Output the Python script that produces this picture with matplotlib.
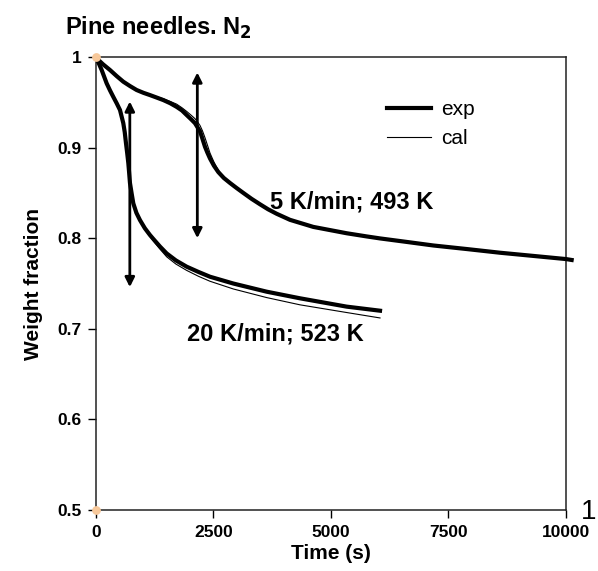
# Pine needles in N2: weight fraction vs time, exp vs cal for two heating rates.
import matplotlib
matplotlib.use("Agg")
import matplotlib.pyplot as plt

plt.rcParams['font.family'] = ['Liberation Sans', 'DejaVu Sans']

# 5 K/min; 493 K
t_5 = [0, 14, 150, 298, 440, 581, 723, 865, 1010, 1149, 1290, 1433, 1580, 1716,
       1830, 1929, 2020, 2106, 2160, 2213, 2266, 2319, 2370, 2426, 2510, 2603,
       2720, 2851, 2990, 3135, 3310, 3489, 3660, 3844, 4128, 4624, 5333, 5759,
       6043, 6600, 7177, 7900, 8596, 9300, 10000, 10120]
w_5_exp = [1.0, 0.9986, 0.992, 0.9857, 0.979, 0.9728, 0.968, 0.9636, 0.9605,
           0.958, 0.9553, 0.9525, 0.949, 0.945, 0.941, 0.936, 0.9315, 0.927,
           0.9225, 0.918, 0.9097, 0.901, 0.8945, 0.888, 0.880, 0.873, 0.8665,
           0.861, 0.8555, 0.850, 0.8435, 0.8375, 0.832, 0.827, 0.8203, 0.8125,
           0.8055, 0.802, 0.7998, 0.796, 0.792, 0.788, 0.784, 0.7805, 0.777,
           0.776]
w_5_cal = [1.0, 0.9986, 0.992, 0.9857, 0.979, 0.9728, 0.968, 0.9636, 0.9607,
           0.9585, 0.9562, 0.954, 0.951, 0.948, 0.944, 0.940, 0.936, 0.932,
           0.9285, 0.9245, 0.9185, 0.911, 0.903, 0.894, 0.884, 0.875, 0.8675,
           0.8615, 0.856, 0.8505, 0.844, 0.838, 0.8325, 0.8275, 0.8208, 0.813,
           0.806, 0.8025, 0.8003, 0.7965, 0.7925, 0.7885, 0.7845, 0.781, 0.7775,
           0.7765]

# 20 K/min; 523 K
t_20 = [0, 60, 121, 227, 300, 369, 440, 511, 581, 612, 638, 664, 688, 706, 723,
        760, 794, 860, 936, 1040, 1149, 1220, 1362, 1504, 1700, 1929, 2180,
        2426, 2922, 3631, 4340, 5333, 6043]
w_20_exp = [1.0, 0.993, 0.9857, 0.971, 0.963, 0.956, 0.949, 0.9415, 0.927,
            0.917, 0.905, 0.894, 0.883, 0.872, 0.861, 0.849, 0.8385, 0.828,
            0.820, 0.811, 0.8035, 0.7992, 0.7908, 0.7832, 0.7755, 0.7686,
            0.7628, 0.7575, 0.750, 0.741, 0.7337, 0.7245, 0.720]
w_20_cal = [1.0, 0.993, 0.9857, 0.971, 0.963, 0.956, 0.949, 0.9415, 0.927,
            0.917, 0.905, 0.894, 0.883, 0.872, 0.861, 0.849, 0.8385, 0.828,
            0.820, 0.810, 0.802, 0.797, 0.788, 0.7795, 0.7715, 0.7645, 0.758,
            0.7525, 0.744, 0.7345, 0.7265, 0.718, 0.712]

# double arrows: (x, y_low, y_high)
arrow_5 = (2156, 0.800, 0.983)
arrow_20 = (720, 0.746, 0.951)

x_ticks = [0, 2500, 5000, 7500, 10000]
y_ticks = [0.5, 0.6, 0.7, 0.8, 0.9, 1.0]
y_labels = ['0.5', '0.6', '0.7', '0.8', '0.9', '1']

fig = plt.figure(figsize=(5.98, 5.71), dpi=100)
ax = fig.add_axes([0.1605, 0.1068, 0.786, 0.7933])

ax.plot(t_5, w_5_cal, color='black', lw=0.8, zorder=2)
ax.plot(t_20, w_20_cal, color='black', lw=0.8, zorder=2)
ax.plot(t_5, w_5_exp, color='black', lw=3.0, zorder=3, label='exp', clip_on=False)
ax.plot(t_20, w_20_exp, color='black', lw=3.0, zorder=3)
# legend-only handle for the thin line
ax.plot([], [], color='black', lw=0.8, label='cal')

for xa, ylo, yhi in (arrow_5, arrow_20):
    ax.annotate('', xy=(xa, yhi), xytext=(xa, ylo),
                arrowprops=dict(arrowstyle='<|-|>', color='black', lw=2.0,
                                mutation_scale=14, shrinkA=0, shrinkB=0))

ax.text(3700, 0.840, '5 K/min; 493 K', fontsize=17, fontweight='bold', va='center')
ax.text(1930, 0.694, '20 K/min; 523 K', fontsize=17, fontweight='bold', va='center')

# orange corner markers
ax.scatter([0, 0], [1.0, 0.5], s=28, color='#f7c89a', zorder=5, clip_on=False)

ax.set_xlim(0, 10000)
ax.set_ylim(0.5, 1.0)
ax.set_xticks(x_ticks)
ax.set_xticklabels([str(v) for v in x_ticks])
ax.set_yticks(y_ticks)
ax.set_yticklabels(y_labels)
ax.tick_params(direction='out', length=5.5, width=1.0, labelsize=12.5, pad=5)
for lab in ax.get_xticklabels() + ax.get_yticklabels():
    lab.set_fontweight('bold')
for sp in ax.spines.values():
    sp.set_linewidth(1.1)
    sp.set_color('#222222')

ax.set_xlabel('Time (s)', fontsize=15, fontweight='bold', labelpad=3)
ax.set_ylabel('Weight fraction', fontsize=15, fontweight='bold', labelpad=10)

ax.legend(loc='upper left', bbox_to_anchor=(0.619, 0.905), frameon=False,
          fontsize=15, handlelength=2.1, handletextpad=0.5, labelspacing=0.5,
          borderpad=0, borderaxespad=0)

fig.text(0.108, 0.952, 'Pine needles. N$_\\mathbf{2}$', fontsize=17, fontweight='bold',
         va='center')
fig.text(0.985, 0.103, '1', fontsize=20, va='center', ha='center')

fig.savefig('out.png', dpi=100)
